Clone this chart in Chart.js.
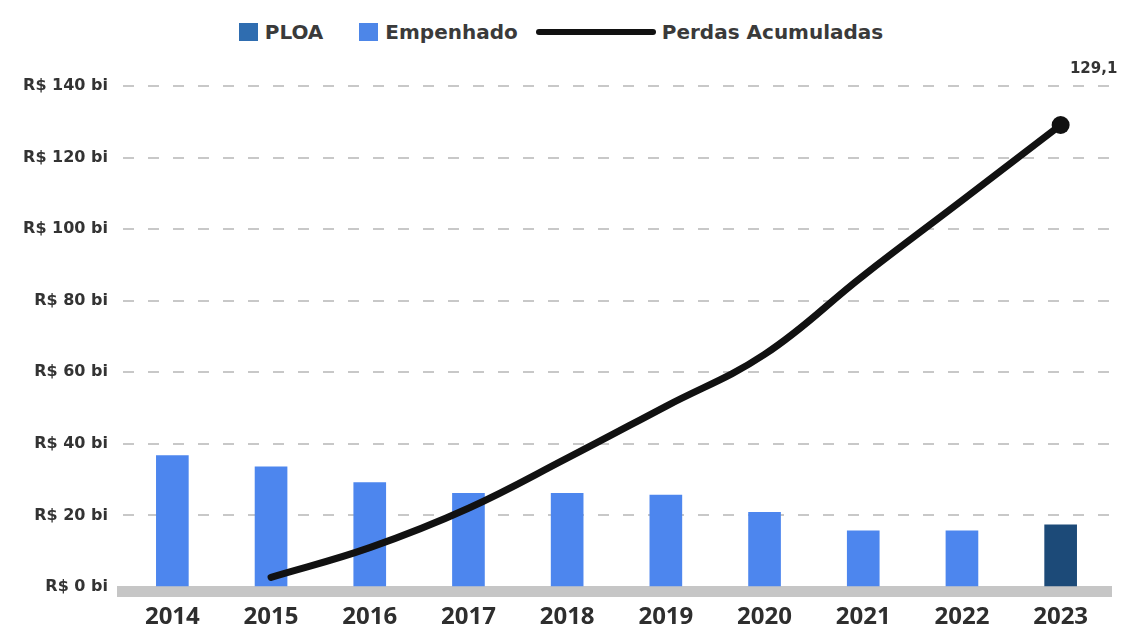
<!DOCTYPE html>
<html lang="pt-BR">
<head>
  <meta charset="UTF-8">
  <title>PLOA, Empenhado e Perdas Acumuladas</title>
  <script src="https://cdn.jsdelivr.net/npm/chart.js"></script>
  <style>
    html, body { margin: 0; padding: 0; background: #fff; }
    body { width: 1122px; height: 632px; position: relative; overflow: hidden; }
    #legend {
      position: absolute; top: 20px; left: 0; width: 1122px;
      display: flex; justify-content: center; align-items: center;
      font-family: "DejaVu Sans", sans-serif; font-weight: bold; font-size: 20px; color: #3a3a3a;
    }
    #legend .item { display: flex; align-items: center; }
    #legend .box { width: 19px; height: 18px; margin-right: 7px; }
    #legend .line { width: 120px; height: 6px; margin-right: 6px; border-radius: 3px; }
    #chart { position: absolute; top: 0; left: 0; }
  </style>
</head>
<body>

<div id="legend"></div>
<canvas id="chart" width="1122" height="632"></canvas>

<script>
const years = ['2014', '2015', '2016', '2017', '2018', '2019', '2020', '2021', '2022', '2023'];
const ploa = [null, null, null, null, null, null, null, null, null, 17.4];
const empenhado = [36.7, 33.6, 29.2, 26.2, 26.2, 25.7, 20.9, 15.7, 15.7, null];
const perdas = [null, 2.7, 11, 22, 36, 50.5, 65, 87, 108, 129.1];
const yTicks = [0, 20, 40, 60, 80, 100, 120, 140];

const lastIdx = perdas.length - 1;

// grey strip under the x axis
const baseBand = {
  id: 'baseBand',
  beforeDatasetsDraw(chart) {
    const { ctx, chartArea } = chart;
    ctx.save();
    ctx.fillStyle = '#c6c6c6';
    ctx.fillRect(chartArea.left - 6, chartArea.bottom - 1, chartArea.right - chartArea.left + 8, 11);
    ctx.restore();
  }
};

// value tag next to the last point of the line
const endLabel = {
  id: 'endLabel',
  afterDatasetsDraw(chart) {
    const meta = chart.getDatasetMeta(2);
    const pt = meta.data[lastIdx];
    if (!pt) return;
    const ctx = chart.ctx;
    ctx.save();
    ctx.font = 'bold 15px "DejaVu Sans", sans-serif';
    ctx.fillStyle = '#333';
    ctx.textAlign = 'center';
    ctx.textBaseline = 'middle';
    ctx.fillText(perdas[lastIdx].toFixed(1).replace('.', ','), pt.x + 33, pt.y - 56);
    ctx.restore();
  }
};

const chart = new Chart(document.getElementById('chart'), {
  type: 'bar',
  data: {
    labels: years,
    datasets: [
      {
        label: 'PLOA',
        data: ploa,
        backgroundColor: '#1c4a78',
        barThickness: 32,
        skipNull: true,
        order: 2
      },
      {
        label: 'Empenhado',
        data: empenhado,
        backgroundColor: '#4d86ee',
        barThickness: 32,
        skipNull: true,
        order: 2
      },
      {
        type: 'line',
        label: 'Perdas Acumuladas',
        data: perdas,
        borderColor: '#111',
        backgroundColor: '#111',
        borderWidth: 7,
        borderCapStyle: 'round',
        tension: 0.4,
        pointRadius: ctx => ctx.dataIndex === lastIdx ? 9 : 0,
        pointBackgroundColor: '#111',
        pointBorderWidth: 0,
        order: 1
      }
    ]
  },
  options: {
    responsive: false,
    animation: false,
    layout: { padding: { top: 86, left: 10, right: 12, bottom: 0 } },
    plugins: {
      legend: { display: false },
      tooltip: { enabled: false }
    },
    scales: {
      x: {
        afterFit: s => { s.height = 45; },
        grid: { display: false, drawTicks: false },
        border: { display: false },
        ticks: {
          padding: 16,
          color: '#2e2e2e',
          font: { family: '"Open Sans", sans-serif', size: 24, weight: '700' }
        }
      },
      y: {
        min: 0,
        max: 140,
        afterFit: s => { s.width = 113; },
        afterBuildTicks: s => { s.ticks = yTicks.map(v => ({ value: v })); },
        grid: {
          color: ctx => ctx.tick && ctx.tick.value === 0 ? 'rgba(0,0,0,0)' : '#c8c8c8',
          lineWidth: 2,
          drawTicks: false
        },
        border: { display: false, dash: [11, 14] },
        ticks: {
          padding: 15,
          color: '#333',
          font: { family: '"DejaVu Sans", sans-serif', size: 16, weight: 'bold' },
          callback: v => 'R$ ' + v + ' bi'
        }
      }
    }
  },
  plugins: [baseBand, endLabel]
});

// legend row built from the datasets
const legendColors = { 'PLOA': '#2f6db0', 'Empenhado': '#4d86e8' };
const legend = document.getElementById('legend');
chart.data.datasets.forEach((ds, i) => {
  const item = document.createElement('div');
  item.className = 'item';
  if (i > 0) item.style.marginLeft = i === 1 ? '36px' : '18px';
  const mark = document.createElement('span');
  if (ds.type === 'line') {
    mark.className = 'line';
    mark.style.background = ds.borderColor;
  } else {
    mark.className = 'box';
    mark.style.background = legendColors[ds.label] || ds.backgroundColor;
  }
  const txt = document.createElement('span');
  txt.textContent = ds.label;
  item.appendChild(mark);
  item.appendChild(txt);
  legend.appendChild(item);
});
</script>

</body>
</html>
